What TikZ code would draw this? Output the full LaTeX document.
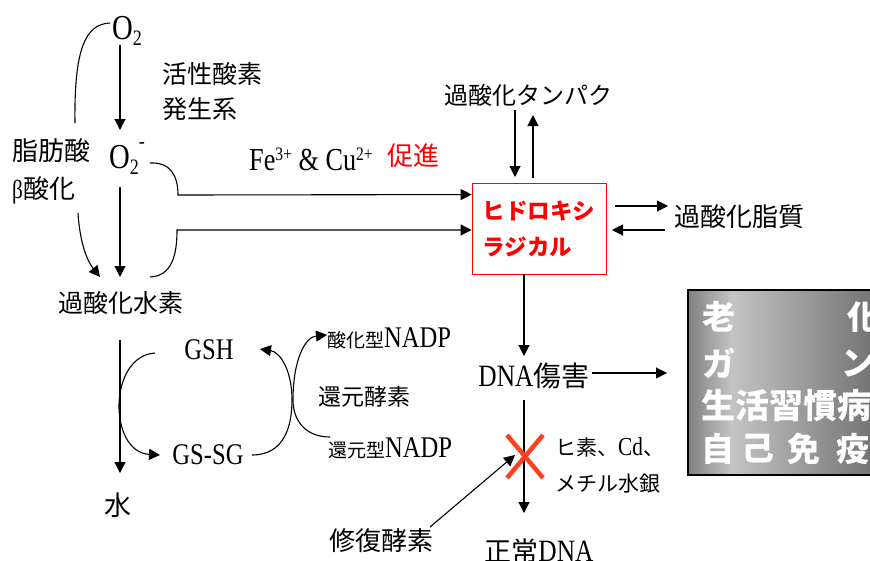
\documentclass[tikz,border=0pt]{standalone}
\usepackage{fontspec}
\setmainfont{Liberation Serif}[FakeStretch=0.82]
\newfontfamily\jp{Noto Sans CJK JP}
\usetikzlibrary{arrows.meta,calc}
\definecolor{xred}{RGB}{255,64,32}
\definecolor{gA}{RGB}{128,128,128}
\definecolor{gB}{RGB}{196,196,196}
\definecolor{gC}{RGB}{100,100,100}
\newcommand\JP[2]{{\jp\fontsize{#1}{#1}\selectfont #2}}
\newcommand\LT[2]{{\rmfamily\fontsize{#1}{#1}\selectfont #2}}
\newcommand\lsub[1]{\raisebox{-6pt}{\fontsize{22}{22}\selectfont #1}}
\newcommand\lsup[1]{\raisebox{10pt}{\fontsize{19}{19}\selectfont #1}}
\newcommand\lminus{\raisebox{20pt}{\fontsize{22}{22}\selectfont -}}
\begin{document}
\begin{tikzpicture}[x=1pt,y=-1pt,
  arr/.style={-{Triangle[length=11pt,width=11pt]}, line width=1.1pt},
  ln/.style={line width=1.1pt},
  lab/.style={inner sep=0pt, font=\jp\fontsize{25}{35}\selectfont},
  lat/.style={inner sep=0pt, font=\rmfamily\fontsize{32}{36}\selectfont},
  wt/.style={inner sep=0pt, text=white, font=\jp\bfseries\fontsize{33}{33}\selectfont, anchor=west}]
\useasboundingbox (0,0) rectangle (870,560);
\clip (0,0) rectangle (870,560);
\fill[white] (0,0) rectangle (870,560);

% ---- nodes ----
\node[lat, font=\rmfamily\fontsize{35}{36}\selectfont] (o2) at (127,31) {O\lsub{2}};
\node[lat, font=\rmfamily\fontsize{35}{36}\selectfont] (o2m) at (127,158) {O\lsub{2}\lminus};
\node[lab, align=left, anchor=west] (kasei) at (162,92) {活性酸素\\発生系};
\node[lab, align=left, anchor=west, font=\jp\fontsize{26}{38}\selectfont] (shibo) at (12,171) {脂肪酸\\{\rmfamily β}酸化};
\node[lab] (kasuiso) at (121,303) {過酸化水素};
\node[lab, font=\jp\fontsize{27}{30}\selectfont] (mizu) at (118,505) {水};
\node[lat, font=\rmfamily\fontsize{30}{36}\selectfont] (gsh) at (209,350) {GSH};
\node[lat, font=\rmfamily\fontsize{30}{36}\selectfont] (gssg) at (208,455) {GS-SG};
\node[lab, anchor=west] (sankaN) at (327,338) {\JP{19}{酸化型}\LT{30}{NADP}};
\node[lab, font=\jp\fontsize{23}{30}\selectfont] (kangen) at (364,397) {還元酵素};
\node[lab, anchor=west] (kangenN) at (328,448) {\JP{19}{還元型}\LT{30}{NADP}};
\node[lat] (fe) at (311,159) {Fe\lsup{3+} \& Cu\lsup{2+}};
\node[lab, text=red, font=\jp\fontsize{26}{30}\selectfont] (soku) at (413,156) {促進};
\node[lab, font=\jp\fontsize{24}{30}\selectfont] (tanpaku) at (528,95) {過酸化タンパク};
\node[draw=red, line width=0.9pt, minimum width=134pt, minimum height=91pt, inner sep=0pt,
      text=red, align=left, font=\jp\bfseries\fontsize{22.5}{36}\selectfont] (hr) at (539,228.5) {ヒドロキシ\\ラジカル};
\node[lab, font=\jp\fontsize{26}{30}\selectfont] (kashitsu) at (739,217) {過酸化脂質};
\node[lab] (dna) at (534,376) {\LT{31}{DNA}\JP{28}{傷害}};
\node[lab] (seijo) at (539,551) {\JP{27}{正常}\LT{31}{DNA}};
\node[lab, font=\jp\fontsize{26}{30}\selectfont] (shufuku) at (381,541) {修復酵素};
\node[lab, align=left, anchor=west, font=\jp\fontsize{21}{36}\selectfont] (hiso) at (555,465) {ヒ素、\LT{26}{Cd}、\\メチル水銀};
\coordinate (xmark) at (525,456.5);

% ---- gradient box ----
\shade[left color=gA, right color=gB] (688,290) rectangle (732,475);
\shade[left color=gB, right color=gC] (731.5,290) rectangle (900,475);
\node[draw=black, line width=1.5pt, minimum width=212pt, minimum height=185pt, inner sep=0pt] (bigbox) at (794,382.5) {};
\node[wt] (b1a) at (702,317) {老};
\node[wt] (b1b) at (847,317) {化};
\node[wt] (b2a) at (702,363) {ガ};
\node[wt] (b2b) at (841,363) {ン};
\node[wt, font=\jp\bfseries\fontsize{34}{34}\selectfont] (b3) at (701,406) {生活習慣病};
\node[wt] (b4a) at (701,449) {自};
\node[wt] (b4b) at (741,449) {己};
\node[wt] (b4c) at (787,449) {免};
\node[wt] (b4d) at (836,449) {疫};

% ---- connectors ----
\draw[arr] ($(o2)+(-7,14)$) -- ($(o2m)+(-7,-28)$);
\draw[arr] ($(o2m)+(-7,29)$) -- ($(kasuiso)+(-1,-26)$);
\draw[arr] ($(kasuiso)+(-1,37)$) -- ($(mizu)+(2,-32)$);
\draw[ln] ($(o2)+(-17,-8)$) .. controls (85,24) and (74,50) .. ($(shibo.west)+(63,-48)$);
\draw[arr] ($(shibo.west)+(66,42)$) .. controls (80,245) and (88,262) .. ($(kasuiso)+(-21,-26)$);
\draw[arr] ($(o2m)+(23,5)$) .. controls (170,162) and (178,175) .. (178,195) -- ($(hr.north west)+(0,12)$);
\draw[arr] ($(kasuiso)+(29,-26)$) .. controls (172,276) and (177,255) .. (177,230) -- ($(hr.west)+(0,1.5)$);
\draw[arr] ($(tanpaku)+(-13,15)$) -- ($(hr)+(-24,-51.5)$);
\draw[arr] ($(hr)+(-6,-50.5)$) -- ($(tanpaku)+(5,20)$);
\draw[arr] ($(hr)+(76,-22.5)$) -- ($(kashitsu)+(-71,-11)$);
\draw[arr] ($(kashitsu)+(-74,13)$) -- ($(hr)+(73,1.5)$);
\draw[arr] ($(hr)+(-15,45.5)$) -- ($(dna)+(-10,-20)$);
\draw[arr] ($(dna)+(58,-3)$) -- ($(bigbox)+(-127,-9.5)$);
\draw[arr] ($(dna)+(-10,24)$) -- ($(seijo)+(-15,-38)$);
\draw[arr] ($(gsh)+(-54,3)$) .. controls (108,356) and (108,452) .. ($(gssg)+(-48,0)$);
\draw[arr] ($(gssg)+(44,0)$) .. controls (285,455) and (292,425) .. (292,400) .. controls (292,370) and (280,352) .. ($(gsh)+(51,-1)$);
\draw[arr] ($(kangenN.west)+(2,-11)$) .. controls (305,437) and (293,420) .. (293,400) .. controls (293,360) and (305,337) .. ($(sankaN.west)+(0,-3)$);
\draw[arr] ($(shufuku)+(49,-14)$) -- ($(xmark)+(-10,-1.5)$);
\draw[xred, line width=4.5pt] ($(xmark)+(-18,-21.5)$) -- ($(xmark)+(18,21.5)$);
\draw[xred, line width=4.5pt] ($(xmark)+(18,-21.5)$) -- ($(xmark)+(-18,21.5)$);
\end{tikzpicture}
\end{document}
